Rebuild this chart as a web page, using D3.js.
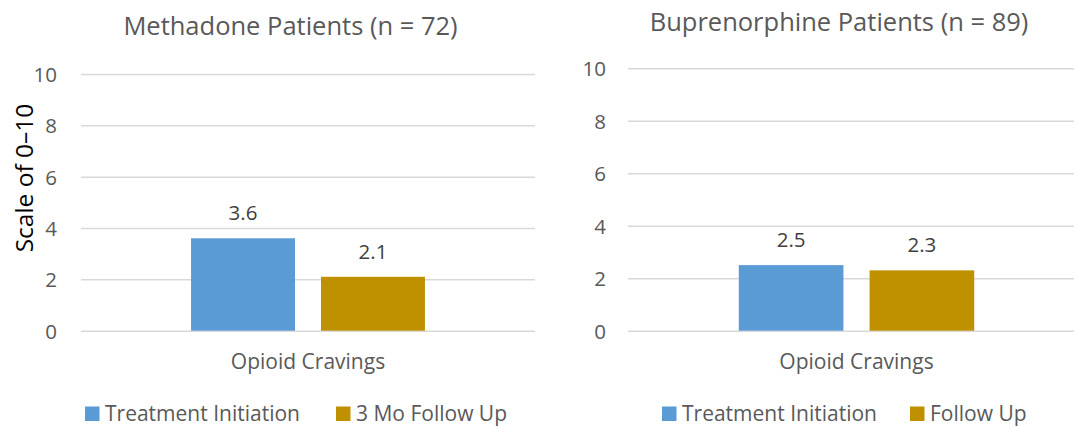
<!DOCTYPE html>
<html>
<head>
<meta charset="utf-8">
<script src="https://cdn.jsdelivr.net/npm/d3@7"></script>
<style>
  html, body { margin: 0; padding: 0; background: #fff; }
  svg { display: block; font-family: "Open Sans", "Noto Sans", sans-serif; }
</style>
</head>
<body>
<svg id="chart" width="1074" height="427"></svg>
<script>
// ---- data ----
const categories = ["Opioid Cravings"];
const methadoneTitle = "Methadone Patients (n = 72)";
const methadoneSeries = ["Treatment Initiation", "3 Mo Follow Up"];
const methadoneValues = [3.6, 2.1];
const buprenorphineTitle = "Buprenorphine Patients (n = 89)";
const buprenorphineSeries = ["Treatment Initiation", "Follow Up"];
const buprenorphineValues = [2.5, 2.3];
const yTicks = [0, 2, 4, 6, 8, 10];
const yAxisTitle = "Scale of 0\u201310";
const seriesColors = ["#5B9BD5", "#BF9000"];

const svg = d3.select("#chart");

function drawPanel(cfg) {
  const g = svg.append("g");
  const y = d3.scaleLinear().domain([0, 10]).range([cfg.y0, cfg.y10]);
  const x0 = d3.scaleBand().domain(categories).range([cfg.xl, cfg.xr])
    .paddingInner(0.32).paddingOuter(0.32);
  const x1 = d3.scaleBand().domain(cfg.series).range([0, x0.bandwidth()])
    .paddingInner(0.2);
  const color = d3.scaleOrdinal().domain(cfg.series).range(seriesColors);

  // gridlines + tick labels through a d3 axis
  const axis = d3.axisLeft(y).tickValues(yTicks).tickSize(-(cfg.gridR - cfg.xl))
    .tickPadding(cfg.xl - cfg.labelX).tickFormat(d3.format("d"));
  const ag = g.append("g").attr("transform", `translate(${cfg.xl},0)`).call(axis);
  ag.select(".domain").remove();
  ag.selectAll(".tick line").attr("stroke", "#D9D9D9").attr("stroke-width", 1.5);
  ag.selectAll(".tick text").attr("fill", "#595959").attr("font-size", 20.5)
    .attr("font-family", "Open Sans").attr("dy", "0.36em");

  // bars
  const data = cfg.series.map((s, i) => ({ cat: categories[0], series: s, value: cfg.values[i] }));
  const bars = g.append("g");
  bars.selectAll("rect").data(data).join("rect")
    .attr("x", d => x0(d.cat) + x1(d.series))
    .attr("width", x1.bandwidth())
    .attr("y", d => y(d.value))
    .attr("height", d => y(0) - y(d.value))
    .attr("fill", d => color(d.series));

  // data labels
  bars.selectAll("text").data(data).join("text")
    .attr("x", d => x0(d.cat) + x1(d.series) + x1.bandwidth() / 2)
    .attr("y", d => y(d.value) - 18)
    .attr("text-anchor", "middle")
    .attr("fill", "#404040").attr("font-size", 20.5)
    .text(d => d.value.toFixed(1));

  // category label
  g.selectAll(".cat").data(categories).join("text").attr("class", "cat")
    .attr("x", d => x0(d) + x0.bandwidth() / 2)
    .attr("y", cfg.catY)
    .attr("text-anchor", "middle")
    .attr("fill", "#595959").attr("font-size", 21)
    .text(d => d);

  // title
  g.append("text").attr("x", cfg.titleX).attr("y", cfg.titleY)
    .attr("text-anchor", "middle").attr("fill", "#595959").attr("font-size", 25.5)
    .text(cfg.title);

  // legend
  const lg = g.append("g");
  const items = lg.selectAll("g").data(cfg.series).join("g")
    .attr("transform", (d, i) => `translate(${cfg.legendX[i]},0)`);
  items.append("rect").attr("x", 0).attr("y", cfg.legendY - 14.5)
    .attr("width", 14.5).attr("height", 14.5).attr("fill", d => color(d));
  items.append("text").attr("x", 20).attr("y", cfg.legendY)
    .attr("fill", "#595959").attr("font-size", 21).text(d => d);
}

drawPanel({
  title: methadoneTitle, series: methadoneSeries, values: methadoneValues,
  xl: 81, xr: 535, gridR: 535, y0: 330.7, y10: 74, labelX: 57,
  catY: 369, titleX: 290.5, titleY: 35, legendX: [85, 336], legendY: 421
});
drawPanel({
  title: buprenorphineTitle, series: buprenorphineSeries, values: buprenorphineValues,
  xl: 628, xr: 1085, gridR: 1085, y0: 330.7, y10: 68.3, labelX: 606,
  catY: 369, titleX: 839, titleY: 30.5, legendX: [662, 910], legendY: 421
});

// y axis title (left panel)
svg.append("text")
  .attr("transform", "translate(33,178) rotate(-90)")
  .attr("text-anchor", "middle").attr("fill", "#000").attr("font-size", 24.5)
  .text(yAxisTitle);
</script>
</body>
</html>
